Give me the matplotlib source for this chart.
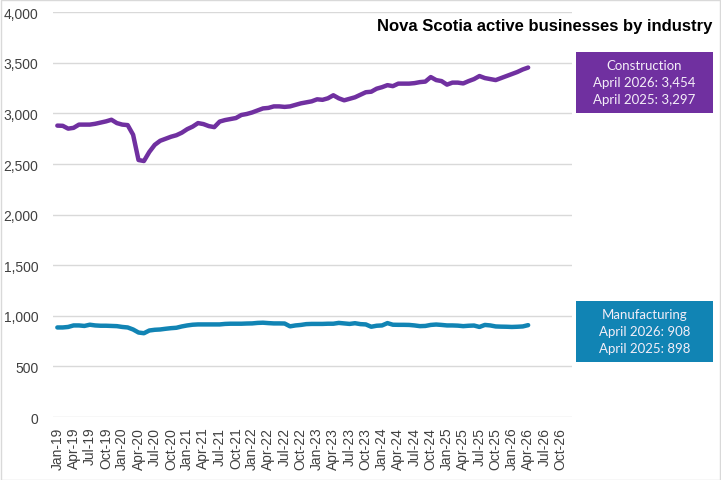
import matplotlib
matplotlib.use("Agg")
import matplotlib.pyplot as plt
import numpy as np
from matplotlib.patches import Rectangle

# Monthly data, Jan-19 .. Apr-26
construction = [
    2880, 2878, 2850, 2858, 2890, 2890, 2890, 2898, 2910, 2922, 2938, 2905,  # 2019
    2890, 2885, 2790, 2540, 2530, 2620, 2690, 2730, 2750, 2770, 2785, 2810,  # 2020
    2845, 2870, 2905, 2895, 2875, 2865, 2920, 2935, 2945, 2955, 2985, 2995,  # 2021
    3010, 3030, 3050, 3055, 3070, 3070, 3065, 3070, 3085, 3100, 3110, 3120,  # 2022
    3140, 3135, 3150, 3180, 3150, 3130, 3145, 3160, 3185, 3210, 3215, 3245,  # 2023
    3260, 3280, 3270, 3295, 3295, 3295, 3300, 3310, 3315, 3360, 3330, 3320,  # 2024
    3285, 3305, 3305, 3297, 3320, 3340, 3370, 3350, 3340, 3330, 3350, 3370,  # 2025
    3390, 3410, 3435, 3454,                                                  # 2026
]
manufacturing = [
    885, 885, 890, 905, 905, 900, 912, 905, 902, 902, 900, 898,
    890, 885, 865, 835, 828, 855, 862, 865, 872, 878, 882, 895,
    905, 912, 915, 915, 915, 915, 915, 920, 922, 922, 922, 924,
    925, 930, 932, 928, 925, 925, 924, 896, 905, 910, 918, 920,
    920, 920, 922, 922, 930, 925, 920, 927, 918, 915, 892, 902,
    905, 928, 912, 911, 911, 910, 905, 898, 900, 910, 914, 910,
    905, 905, 903, 898, 902, 904, 890, 910, 905, 895, 893, 892,
    890, 892, 895, 908,
]
tick_labels = [
    "Jan-19", "Apr-19", "Jul-19", "Oct-19", "Jan-20", "Apr-20", "Jul-20", "Oct-20",
    "Jan-21", "Apr-21", "Jul-21", "Oct-21", "Jan-22", "Apr-22", "Jul-22", "Oct-22",
    "Jan-23", "Apr-23", "Jul-23", "Oct-23", "Jan-24", "Apr-24", "Jul-24", "Oct-24",
    "Jan-25", "Apr-25", "Jul-25", "Oct-25", "Jan-26", "Apr-26", "Jul-26", "Oct-26",
]
y_ticks = [0, 500, 1000, 1500, 2000, 2500, 3000, 3500, 4000]
title = "Nova Scotia active businesses by industry"
constr_box = ["Construction", "April 2026: 3,454", "April 2025: 3,297"]
manuf_box = ["Manufacturing", "April 2026: 908", "April 2025: 898"]

PURPLE = "#7030A0"
TEAL = "#1184B4"

W, H = 721, 481
fig = plt.figure(figsize=(W / 100, H / 100), dpi=100)
ax = fig.add_axes([53 / W, 1 - 418 / H, (572 - 53) / W, (418 - 13.3) / H])

x = np.arange(len(construction))
ax.plot(x, construction, color=PURPLE, lw=3.2, solid_joinstyle="round", solid_capstyle="round", zorder=3)
ax.plot(np.arange(len(manufacturing)), manufacturing, color=TEAL, lw=3.2,
        solid_joinstyle="round", solid_capstyle="round", zorder=3)

ax.set_ylim(0, 4000)
ax.set_xlim(-0.8, 95.1)
ax.set_yticks(y_ticks)
ax.set_yticklabels([f"{v:,}" for v in y_ticks], fontfamily="Liberation Sans", fontsize=10, color="#404040")
ax.set_xticks(np.arange(0, 3 * len(tick_labels), 3))
ax.set_xticklabels(tick_labels, rotation=90, fontfamily="Liberation Sans", fontsize=10, color="#404040")
ax.tick_params(axis="both", length=0)
ax.tick_params(axis="y", pad=10.5)
ax.tick_params(axis="x", pad=7)
for s in ax.spines.values():
    s.set_visible(False)
ax.grid(axis="y", color="#D9D9D9", lw=1)
ax.set_axisbelow(True)

fig.text(712 / W, 1 - 27 / H, title, ha="right", va="center", fontsize=12,
         fontweight="bold", fontfamily="Liberation Sans", color="#000000")

def box(y_top, y_bot, color, lines):
    x0, x1 = 576, 713
    fig.patches.append(Rectangle((x0 / W, 1 - y_bot / H), (x1 - x0) / W, (y_bot - y_top) / H,
                                 transform=fig.transFigure, facecolor=color, edgecolor="none", zorder=5))
    cy = (y_top + y_bot) / 2
    for i, t in enumerate(lines):
        fig.text((x0 + x1) / 2 / W, 1 - (cy + (i - 1) * 17) / H, t, ha="center", va="center",
                 fontsize=9.5, fontfamily="Lato", color="#F4EEF8", zorder=6)

box(52.7, 114, PURPLE, constr_box)
box(301.7, 362.7, TEAL, manuf_box)

fig.patches.append(Rectangle((0.5 / W, 0.5 / H), (W - 1.5) / W, (H - 1.5) / H, transform=fig.transFigure,
                             facecolor="none", edgecolor="#D9D9D9", lw=1, zorder=10))

fig.savefig("out.png", dpi=100, facecolor="white")
